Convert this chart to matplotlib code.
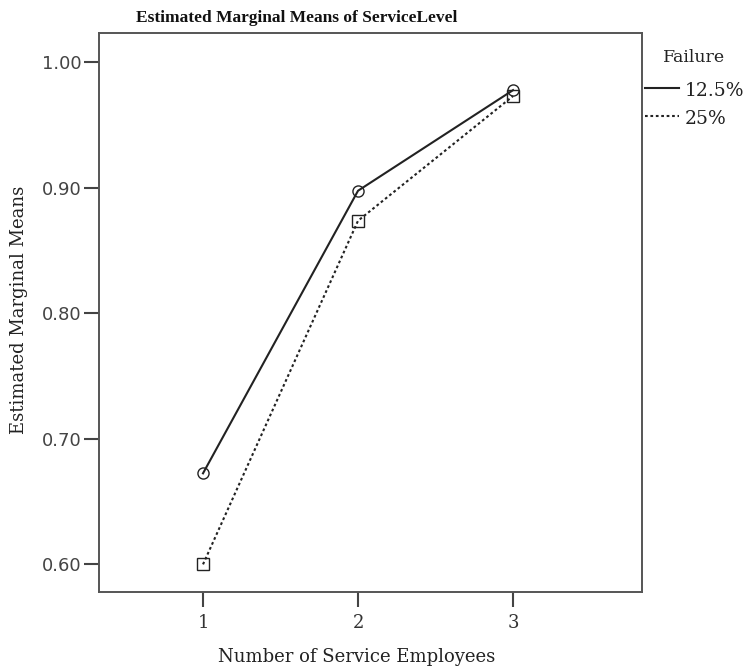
import matplotlib
matplotlib.use('Agg')
import matplotlib.pyplot as plt
from matplotlib.lines import Line2D

# Estimated marginal means
employees = [1, 2, 3]
mean_12_5 = [0.6725, 0.8975, 0.9776]
mean_25 = [0.6000, 0.8736, 0.9729]
series_labels = ['12.5%', '25%']
yticks = [0.60, 0.70, 0.80, 0.90, 1.00]

serif = 'DejaVu Serif'
W, H = 746, 671


def fx(px):
    return px / W


def fy(py):
    return 1 - py / H


fig = plt.figure(figsize=(W / 100, H / 100), dpi=100)
# axes box in pixels: left 99, right 642, top 33, bottom 592
ax = fig.add_axes([fx(99), fy(592), (642 - 99) / W, (592 - 33) / H])

line_color = '#222222'
styles = ['-', (0, (1.3, 1.3))]
markers = ['o', 's']
for vals, ls, mk in zip([mean_12_5, mean_25], styles, markers):
    ax.plot(employees, vals, color=line_color, lw=1.5, linestyle=ls,
            marker=mk, markersize=8, markerfacecolor='none', markeredgewidth=1.0)

ax.set_xlim(0.329, 3.832)
ax.set_ylim(0.578, 1.0231)
ax.set_xticks(employees)
ax.set_xticklabels([str(e) for e in employees], fontfamily=serif, fontsize=13,
                   color='#333333')
ax.set_yticks(yticks)
ax.set_yticklabels([f'{v:.2f}' for v in yticks], fontfamily='DejaVu Sans',
                   fontsize=13, color='#444444')
ax.tick_params(axis='both', direction='out', length=10.5, width=1.5, color='#444444')
ax.tick_params(axis='x', pad=5)
ax.tick_params(axis='y', pad=2)
for side in ['top', 'right', 'left', 'bottom']:
    ax.spines[side].set_color('#555555')
    ax.spines[side].set_linewidth(1.4)

fig.text(fx(357), fy(657), 'Number of Service Employees', ha='center', va='center',
         fontfamily=serif, fontsize=13, color='#222222')
fig.text(fx(19), fy(310), 'Estimated Marginal Means', ha='center', va='center',
         rotation=90, fontfamily=serif, fontsize=13, color='#222222')
fig.text(fx(297), fy(18), 'Estimated Marginal Means of ServiceLevel',
         ha='center', va='center', fontfamily='Liberation Serif',
         fontweight='bold', fontsize=12.5, color='#111111')

# legend, drawn by hand to sit against the frame like the original
fig.text(fx(663), fy(57), 'Failure', ha='left', va='center',
         fontfamily=serif, fontsize=12.5, color='#222222')
legend_rows = [88, 116]
for label, ls, row in zip(series_labels, styles, legend_rows):
    fig.add_artist(Line2D([fx(645), fx(679)], [fy(row), fy(row)],
                          transform=fig.transFigure, color=line_color,
                          lw=1.5, linestyle=ls))
    fig.text(fx(685), fy(row + 3), label, ha='left', va='center',
             fontfamily=serif, fontsize=13.5, color='#222222')

fig.savefig('out.png', dpi=100)
